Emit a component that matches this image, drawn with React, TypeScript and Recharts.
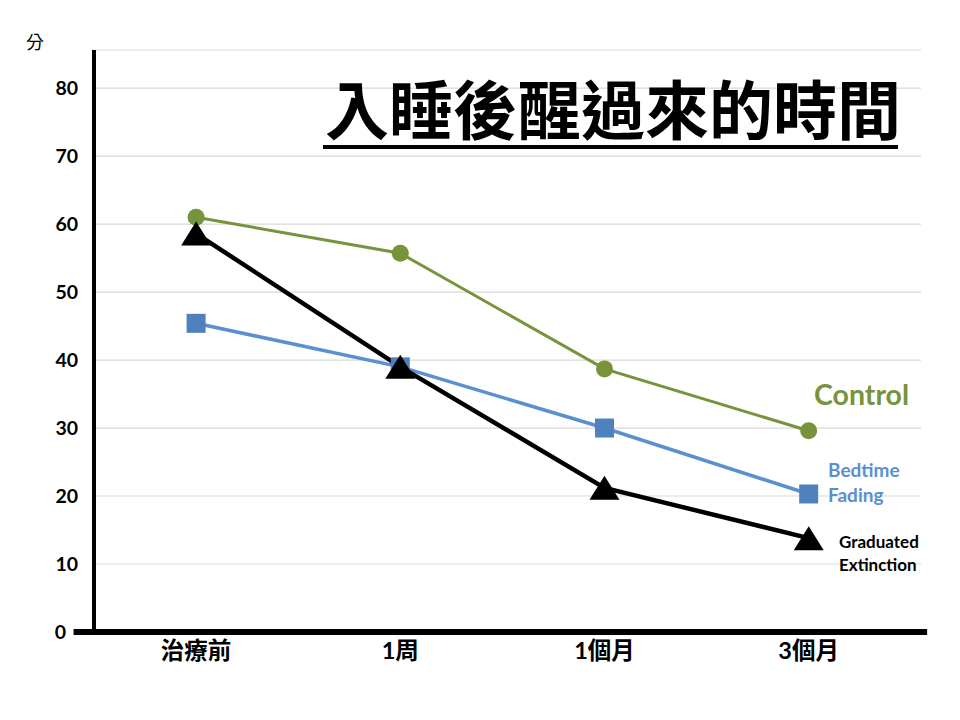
import React from 'react';
import {
  LineChart,
  Line,
  XAxis,
  YAxis,
  CartesianGrid,
  ReferenceLine,
} from 'recharts';

const periods = ['治療前', '1周', '1個月', '3個月'];
const controlMinutes = [61, 55.7, 38.7, 29.6];
const bedtimeFadingMinutes = [45.4, 39, 30, 20.3];
const graduatedExtinctionMinutes = [58.6, 39, 21.2, 13.8];
const yTicks = [0, 10, 20, 30, 40, 50, 60, 70, 80];

const data = periods.map((p, i) => ({
  idx: i,
  period: p,
  control: controlMinutes[i],
  bedtime: bedtimeFadingMinutes[i],
  graduated: graduatedExtinctionMinutes[i],
}));

const GREEN = '#77933C';
const BLUE_LINE = '#5A8FD2';
const BLUE_MARK = '#4F81BD';
const LATIN = "Lato, 'Noto Sans CJK TC', sans-serif";
const CJK = "'Noto Sans CJK TC', sans-serif";

const SquareDot = (props: any) => {
  const { cx, cy } = props;
  if (cx == null || cy == null) return null;
  return <rect x={cx - 9.5} y={cy - 9.5} width={19} height={19} fill={BLUE_MARK} />;
};

const TriangleDot = (props: any) => {
  const { cx, cy } = props;
  if (cx == null || cy == null) return null;
  return (
    <polygon
      points={`${cx},${cy - 12} ${cx + 15},${cy + 12} ${cx - 15},${cy + 12}`}
      fill="#000"
    />
  );
};

const YTick = (props: any) => {
  const { x, y, payload } = props;
  // the zero label sits left of the extended x axis line
  const shift = payload.value === 0 ? -12 : 0;
  return (
    <text
      x={x + shift}
      y={y}
      dy="0.36em"
      textAnchor="end"
      fontSize={19.5}
      fontWeight={700}
      fontFamily={LATIN}
      fill="#000"
    >
      {payload.value}
    </text>
  );
};

export default function App() {
  return (
    <div style={{ position: 'absolute', left: 0, top: 0, width: 960, height: 720, background: '#fff' }}>
      <LineChart
        width={960}
        height={720}
        data={data}
        margin={{ top: 50, right: 39, bottom: 48, left: 0 }}
      >
        <CartesianGrid vertical={false} stroke="#D9D9D9" strokeWidth={1.2} />
        <XAxis
          dataKey="idx"
          type="number"
          domain={[-0.5, 3.55]}
          ticks={[0, 1, 2, 3]}
          tickFormatter={(i: number) => periods[i]}
          axisLine={false}
          tickLine={false}
          tickMargin={4}
          height={40}
          tick={{ fill: '#000', fontSize: 23.5, fontWeight: 700, fontFamily: LATIN }}
        />
        <YAxis
          width={94}
          domain={[0, 85.6]}
          ticks={yTicks}
          axisLine={{ stroke: '#000', strokeWidth: 4 }}
          tickLine={false}
          tickMargin={10}
          tick={<YTick />}
        />
        <ReferenceLine
          segment={[
            { x: -0.6, y: 0 },
            { x: 3.58, y: 0 },
          ]}
          stroke="#000"
          strokeWidth={6}
          ifOverflow="visible"
        />
        <Line
          dataKey="bedtime"
          type="linear"
          stroke={BLUE_LINE}
          strokeWidth={3.5}
          dot={<SquareDot />}
          activeDot={false}
          isAnimationActive={false}
        />
        <Line
          dataKey="control"
          type="linear"
          stroke={GREEN}
          strokeWidth={3}
          dot={{ r: 8.5, fill: GREEN, stroke: 'none' }}
          activeDot={false}
          isAnimationActive={false}
        />
        <Line
          dataKey="graduated"
          type="linear"
          stroke="#000"
          strokeWidth={4.5}
          dot={<TriangleDot />}
          activeDot={false}
          isAnimationActive={false}
        />
      </LineChart>
      <svg
        width={960}
        height={720}
        style={{ position: 'absolute', left: 0, top: 0, pointerEvents: 'none' }}
      >
        <text x={35} y={49} textAnchor="middle" fontSize={18} fontFamily={CJK} fill="#000">分</text>
        <text x={325} y={134} fontSize={64} fontWeight={700} fontFamily={CJK} fill="#000">
          入睡後醒過來的時間
        </text>
        <rect x={323} y={145} width={575} height={4} fill="#000" />
        <text x={814} y={405} fontSize={28.5} fontWeight={700} fontFamily={LATIN} fill={GREEN}>Control</text>
        <text x={828} y={477} fontSize={19} fontWeight={700} fontFamily={LATIN} fill={BLUE_LINE}>Bedtime</text>
        <text x={828} y={502} fontSize={19} fontWeight={700} fontFamily={LATIN} fill={BLUE_LINE}>Fading</text>
        <text x={839} y={548} fontSize={17} fontWeight={700} fontFamily={LATIN} fill="#000">Graduated</text>
        <text x={839} y={571} fontSize={17} fontWeight={700} fontFamily={LATIN} fill="#000">Extinction</text>
      </svg>
    </div>
  );
}
